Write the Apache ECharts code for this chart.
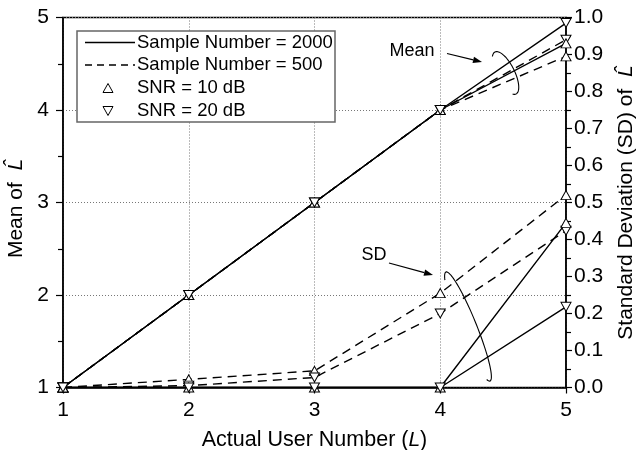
<!DOCTYPE html>
<html><head><meta charset="utf-8">
<script src="https://cdn.jsdelivr.net/npm/echarts@6/dist/echarts.min.js"></script>
<style>html,body{margin:0;padding:0;background:#fff}#c{width:637px;height:450px}</style>
</head><body><div id="c"></div>
<script>
// ---- data ----
const userNumbers = [1, 2, 3, 4, 5];
const meanSnr10N2000 = [1, 2, 3, 4, 4.72];
const meanSnr20N2000 = [1, 2, 3, 4, 4.94];
const meanSnr10N500  = [1, 2, 3, 4, 4.58];
const meanSnr20N500  = [1, 2, 3, 4, 4.76];
const sdSnr10N2000 = [0, 0, 0, 0, 0.445];
const sdSnr20N2000 = [0, 0, 0, 0, 0.218];
const sdSnr10N500  = [0, 0.022, 0.045, 0.255, 0.52];
const sdSnr20N500  = [0, 0.005, 0.027, 0.2, 0.424];
const legendLabels = ['Sample Number = 2000', 'Sample Number = 500', 'SNR = 10 dB', 'SNR = 20 dB'];

const FONT = 'Liberation Sans, Arial, Helvetica, sans-serif';
const UP = 'triangle';
const DOWN = 'path://M0,0L10,0L5,9Z';
const pairs = arr => userNumbers.map((x, i) => [x, arr[i]]);

function mk(name, arr, yIdx, dashed, sym) {
  return {
    name, type: 'line', yAxisIndex: yIdx, data: pairs(arr),
    symbol: sym, symbolSize: [10, 9], showSymbol: true,
    lineStyle: { color: '#000', width: 1.4, type: dashed ? [9, 6] : 'solid' },
    itemStyle: { color: '#fff', borderColor: '#000', borderWidth: 1 },
    z: dashed ? 2 : 3, animation: false
  };
}

// annotation ellipse (open) as polyline
function ellipsePts(cx, cy, a, b, phiDeg, t0, t1) {
  const phi = phiDeg * Math.PI / 180;
  const ux = Math.cos(phi), uy = Math.sin(phi);
  const vx = Math.sin(phi), vy = -Math.cos(phi);
  const pts = [];
  const n = 60;
  for (let k = 0; k <= n; k++) {
    const t = t0 + (t1 - t0) * k / n;
    pts.push([cx + a * Math.cos(t) * ux + b * Math.sin(t) * vx,
              cy + a * Math.cos(t) * uy + b * Math.sin(t) * vy]);
  }
  return pts;
}
function arrow(x1, y1, x2, y2) {
  const ang = Math.atan2(y2 - y1, x2 - x1), L = 9, W = 3.2;
  const bx = x2 - L * Math.cos(ang), by = y2 - L * Math.sin(ang);
  return [
    { type: 'line', shape: { x1, y1, x2: bx, y2: by }, style: { stroke: '#000', lineWidth: 1.2 }, z: 100 },
    { type: 'polygon', shape: { points: [[x2, y2], [bx + W * Math.sin(ang), by - W * Math.cos(ang)], [bx - W * Math.sin(ang), by + W * Math.cos(ang)]] },
      style: { fill: '#000' }, z: 100 }
  ];
}

const legendX = 77, legendY = 31;
const rowY = [42.5, 65, 88, 111];
const graphic = [
  { type: 'rect', shape: { x: legendX, y: legendY, width: 258, height: 91 }, style: { fill: '#fff', stroke: '#666', lineWidth: 1.5 }, z: 90 },
  { type: 'line', shape: { x1: 85, y1: rowY[0], x2: 135, y2: rowY[0] }, style: { stroke: '#000', lineWidth: 1.4 }, z: 91 },
  { type: 'line', shape: { x1: 85, y1: rowY[1], x2: 135, y2: rowY[1] }, style: { stroke: '#000', lineWidth: 1.4, lineDash: [7, 5] }, z: 91 },
  { type: 'polygon', shape: { points: [[108, rowY[2] - 4.5], [113, rowY[2] + 4.5], [103, rowY[2] + 4.5]] }, style: { fill: '#fff', stroke: '#000', lineWidth: 1 }, z: 91 },
  { type: 'polygon', shape: { points: [[103, rowY[3] - 4.5], [113, rowY[3] - 4.5], [108, rowY[3] + 4.5]] }, style: { fill: '#fff', stroke: '#000', lineWidth: 1 }, z: 91 },
  ...legendLabels.map((t, i) => ({ type: 'text', x: 137, y: rowY[i], z: 91,
    style: { text: t, font: '18.5px ' + FONT, fill: '#000', textVerticalAlign: 'middle' } })),
  { type: 'text', x: 412, y: 51, z: 100, style: { text: 'Mean', font: '18px ' + FONT, fill: '#000', textAlign: 'center', textVerticalAlign: 'middle' } },
  ...arrow(447, 53.5, 482, 62),
  { type: 'polyline', shape: { points: ellipsePts(505.5, 73, 23.5, 9, 63.4, Math.PI + 0.5, -0.35) }, style: { stroke: '#000', lineWidth: 1.1, fill: null }, z: 100 },
  { type: 'text', x: 374, y: 255, z: 100, style: { text: 'SD', font: '18px ' + FONT, fill: '#000', textAlign: 'center', textVerticalAlign: 'middle' } },
  ...arrow(389, 263, 433, 275),
  { type: 'polyline', shape: { points: ellipsePts(468, 326.5, 58.8, 8.5, 68, Math.PI + 0.5, -0.3) }, style: { stroke: '#000', lineWidth: 1.1, fill: null }, z: 100 }
];

const axisCommon = {
  axisLine: { show: true, lineStyle: { color: '#000', width: 1.5 } },
  axisTick: { show: true, inside: false, length: 7, lineStyle: { color: '#000', width: 1.2 } },
  axisLabel: { color: '#000', fontFamily: FONT, fontSize: 21 },
  nameTextStyle: { color: '#000', fontFamily: FONT, fontSize: 21, rich: { i: { fontStyle: 'italic', fontFamily: FONT, fontSize: 21 } } }
};

const chart = echarts.init(document.getElementById('c'), null, { renderer: 'canvas' });
chart.setOption({
  animation: false,
  backgroundColor: '#fff',
  grid: { left: 63, right: 71, top: 17.5, bottom: 62.5, containLabel: false, outerBoundsMode: 'none',
          show: true, borderColor: '#000', borderWidth: 1.5, backgroundColor: 'transparent' },
  xAxis: Object.assign({}, axisCommon, {
    type: 'value', min: 1, max: 5, interval: 1,
    axisTick: { show: true, inside: false, length: 6, lineStyle: { color: '#000', width: 1.2 } },
    axisLabel: Object.assign({}, axisCommon.axisLabel, { margin: 12 }),
    splitLine: { show: true, lineStyle: { color: '#777', type: [1, 2], width: 1 } },
    name: 'Actual User Number ({i|L})', nameLocation: 'middle', nameGap: 42,
    nameTextStyle: Object.assign({}, axisCommon.nameTextStyle, { fontSize: 21.5 })
  }),
  yAxis: [
    Object.assign({}, axisCommon, {
      type: 'value', min: 1, max: 5, interval: 1, position: 'left',
      minorTick: { show: true, splitNumber: 2, length: 5, lineStyle: { color: '#000', width: 1.2 } },
      axisLabel: Object.assign({}, axisCommon.axisLabel, { margin: 14 }),
      splitLine: { show: true, lineStyle: { color: '#777', type: [1, 2], width: 1 } },
      name: 'Mean of  {i|L\u0302}', nameLocation: 'middle', nameGap: 32, nameRotate: 90,
      nameTextStyle: Object.assign({}, axisCommon.nameTextStyle, { padding: [0, 12, 0, 0] })
    }),
    Object.assign({}, axisCommon, {
      type: 'value', min: 0, max: 1, interval: 0.1, position: 'right',
      minorTick: { show: true, splitNumber: 2, length: 5, lineStyle: { color: '#000', width: 1.2 } },
      axisTick: { show: true, inside: false, length: 6, lineStyle: { color: '#000', width: 1.2 } },
      axisLabel: Object.assign({}, axisCommon.axisLabel, { margin: 8, formatter: v => v.toFixed(1) }),
      splitLine: { show: false },
      name: 'Standard Deviation (SD) of  {i|L\u0302}', nameLocation: 'middle', nameGap: 50, nameRotate: 90
    })
  ],
  series: [
    mk('meanSnr10N500', meanSnr10N500, 0, true, UP),
    mk('meanSnr20N500', meanSnr20N500, 0, true, DOWN),
    mk('sdSnr10N500', sdSnr10N500, 1, true, UP),
    mk('sdSnr20N500', sdSnr20N500, 1, true, DOWN),
    mk('meanSnr10N2000', meanSnr10N2000, 0, false, UP),
    mk('meanSnr20N2000', meanSnr20N2000, 0, false, DOWN),
    mk('sdSnr10N2000', sdSnr10N2000, 1, false, UP),
    mk('sdSnr20N2000', sdSnr20N2000, 1, false, DOWN)
  ],
  graphic: graphic
});
</script>
</body></html>
